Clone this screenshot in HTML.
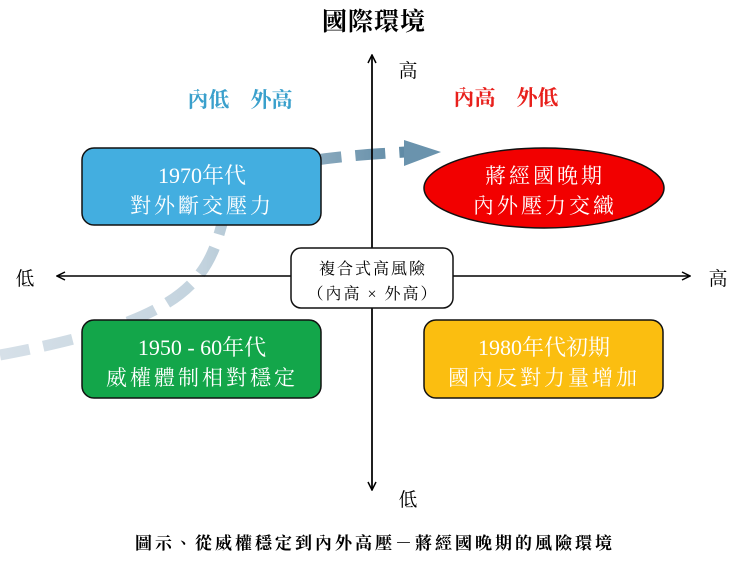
<!DOCTYPE html>
<html><head><meta charset="utf-8"><style>
html,body{margin:0;padding:0;background:#fff;}
svg{display:block}
text{font-family:"Liberation Serif","Noto Serif CJK TC","Noto Serif CJK SC",serif;}
</style></head><body>
<svg width="745" height="564" viewBox="0 0 745 564" xmlns="http://www.w3.org/2000/svg">
<defs>
<linearGradient id="g" x1="0" y1="0" x2="1" y2="0">
<stop offset="0" stop-color="#d6e0e8"/><stop offset="0.5" stop-color="#c3d3de"/><stop offset="1" stop-color="#5f8aa5"/>
</linearGradient>
<marker id="ah" markerWidth="10" markerHeight="10" refX="9" refY="5" orient="auto" markerUnits="userSpaceOnUse"><path d="M1,1 L9,5 L1,9" fill="none" stroke="#000" stroke-width="1.5"/></marker>
</defs>
<path d="M0,355 C80,340 160,320 195,280 C230,240 215,200 250,175 C300,158 360,155 405,152" fill="none" stroke="url(#g)" stroke-width="11" stroke-dasharray="30,14"/>
<polygon points="404,140 441,152 404,166" fill="#6a93ad"/>
<line x1="372" y1="490" x2="372" y2="55" stroke="#000" stroke-width="1.5" marker-end="url(#ah)"/>
<line x1="372" y1="55" x2="372" y2="490" stroke="#000" stroke-width="1.5" marker-end="url(#ah)"/>
<line x1="372" y1="276" x2="57" y2="276" stroke="#000" stroke-width="1.5" marker-end="url(#ah)"/>
<line x1="372" y1="276" x2="690" y2="276" stroke="#000" stroke-width="1.5" marker-end="url(#ah)"/>
<text x="374" y="30" font-size="25" text-anchor="middle" font-weight="bold" letter-spacing="1">國際環境</text>
<text x="408" y="77" font-size="19" text-anchor="middle">高</text>
<text x="408" y="506" font-size="19" text-anchor="middle">低</text>
<text x="25" y="285" font-size="19" text-anchor="middle">低</text>
<text x="718" y="285" font-size="19" text-anchor="middle">高</text>
<text x="240" y="107" font-size="21" text-anchor="middle" fill="#3aa0cc" font-weight="bold">內低　外高</text>
<text x="506" y="105" font-size="21" text-anchor="middle" fill="#e8201c" font-weight="bold">內高　外低</text>
<rect x="82" y="148" width="239" height="77" rx="12" fill="#43aee0" stroke="#111" stroke-width="1.5"/>
<text x="202" y="183" font-size="22" text-anchor="middle" fill="#fff">1970年代</text>
<text x="202" y="213" font-size="21" text-anchor="middle" fill="#fff" letter-spacing="3">對外斷交壓力</text>
<ellipse cx="544" cy="188" rx="120" ry="40" fill="#f20000" stroke="#111" stroke-width="1.5"/>
<text x="545" y="183" font-size="21" text-anchor="middle" fill="#fff" letter-spacing="3">蔣經國晚期</text>
<text x="545" y="213" font-size="21" text-anchor="middle" fill="#fff" letter-spacing="3">內外壓力交織</text>
<rect x="82" y="320" width="239" height="78" rx="12" fill="#13a64a" stroke="#111" stroke-width="1.5"/>
<text x="202" y="355" font-size="22" text-anchor="middle" fill="#fff">1950 - 60年代</text>
<text x="202" y="385" font-size="21" text-anchor="middle" fill="#fff" letter-spacing="3">威權體制相對穩定</text>
<rect x="424" y="320" width="239" height="78" rx="12" fill="#fbbe10" stroke="#111" stroke-width="1.5"/>
<text x="544" y="355" font-size="22" text-anchor="middle" fill="#fff">1980年代初期</text>
<text x="544" y="385" font-size="21" text-anchor="middle" fill="#fff" letter-spacing="3">國內反對力量增加</text>
<rect x="291" y="248" width="162" height="60" rx="10" fill="#fff" stroke="#111" stroke-width="1.5"/>
<text x="373" y="274" font-size="16" text-anchor="middle" letter-spacing="2">複合式高風險</text>
<text x="373" y="299" font-size="16" text-anchor="middle" letter-spacing="2">（內高 × 外高）</text>
<text x="375" y="549" font-size="17" text-anchor="middle" font-weight="bold" letter-spacing="3">圖示、從威權穩定到內外高壓－蔣經國晚期的風險環境</text>
</svg>
</body></html>
